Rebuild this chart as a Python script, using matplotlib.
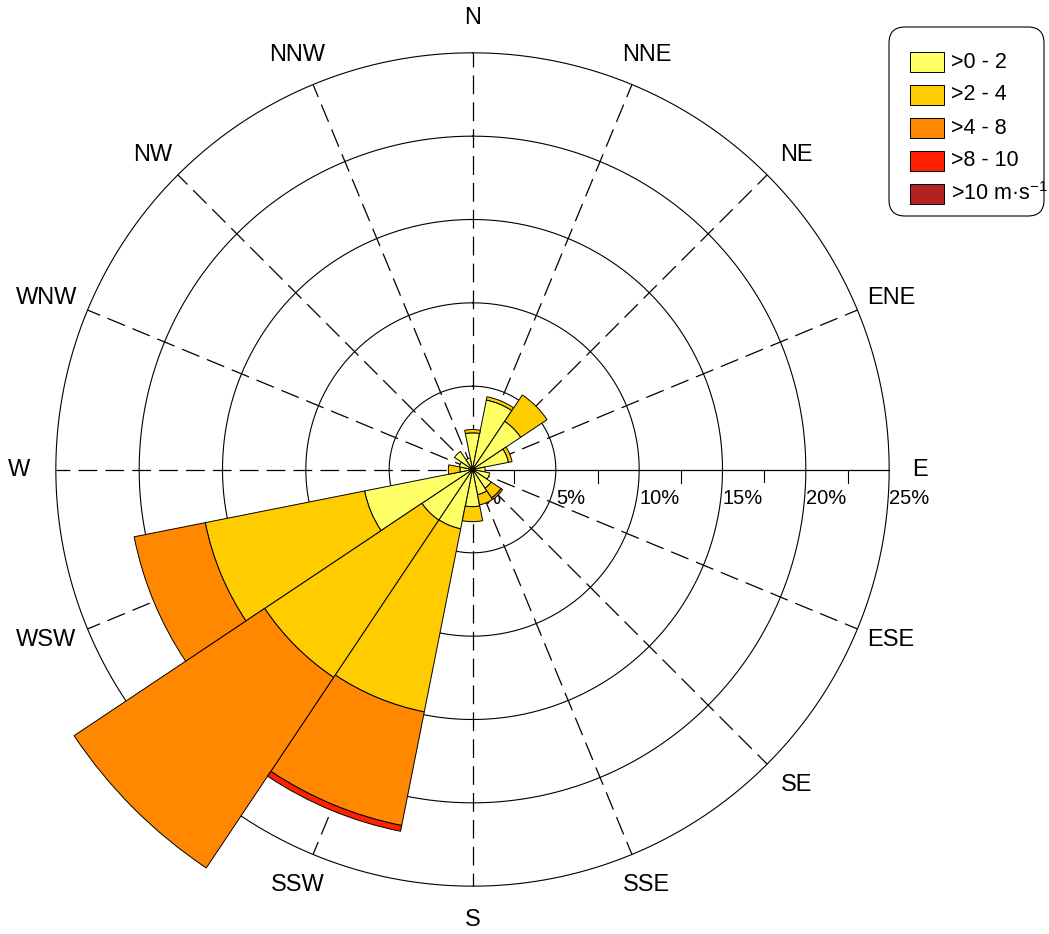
import numpy as np
import matplotlib
matplotlib.use('Agg')
import matplotlib.pyplot as plt
from matplotlib.patches import FancyBboxPatch, Rectangle

plt.rcParams['font.family'] = ['Liberation Sans', 'DejaVu Sans']

# ---------------- data ----------------
directions = ['N', 'NNE', 'NE', 'ENE', 'E', 'ESE', 'SE', 'SSE',
              'S', 'SSW', 'SW', 'WSW', 'W', 'WNW', 'NW', 'NNW']
speed_labels = ['>0 - 2', '>2 - 4', '>4 - 8', '>8 - 10',
                r'>10 m·s$^{\mathregular{-1}}$']
speed_colors = ['#FFFF66', '#FFCC00', '#FF8800', '#FF2200', '#B22222']

# frequency (%) per direction for each speed class
freq_0_2 = [2.20, 4.25, 3.48, 2.20, 0.75, 1.05, 1.35, 1.54,
            2.23, 3.63, 3.65, 6.60, 0.75, 0.80, 1.30, 0.70]
freq_2_4 = [0.20, 0.20, 1.90, 0.22, 0.00, 0.00, 0.70, 0.62,
            0.90, 11.20, 11.35, 9.75, 0.70, 0.00, 0.00, 0.00]
freq_4_8 = [0.00, 0.00, 0.00, 0.00, 0.00, 0.00, 0.12, 0.00,
            0.00, 6.95, 13.75, 4.35, 0.00, 0.00, 0.00, 0.00]
freq_8_10 = [0.00, 0.00, 0.00, 0.00, 0.00, 0.00, 0.00, 0.00,
             0.00, 0.35, 0.00, 0.00, 0.00, 0.00, 0.00, 0.00]
freq_10_up = [0.00] * 16

ring_values = [5, 10, 15, 20, 25]
pct_labels = [0, 5, 10, 15, 20, 25]
minor_ticks = [2.5, 7.5, 12.5, 17.5, 22.5]

series = [freq_0_2, freq_2_4, freq_4_8, freq_8_10, freq_10_up]

# small pixel nudges of the compass labels (style only)
label_nudge = [(0, 1), (2, -1), (6, -4), (3, -1), (-2, 0), (3, 2), (6, 3), (2, 0),
               (0, 0), (-3, 0), (0, 0), (-11, 2), (-3, 0), (-10, -1), (-2, -4), (-3, -1)]

# ---------------- figure ----------------
W, H = 1049, 934
fig = plt.figure(figsize=(W / 100, H / 100), dpi=100)
cx, cy = 472.5, 469.5          # pixel centre of the rose
rlim = 30.0
rad_px = 500.0                 # pixels for rlim
ax = fig.add_axes([(cx - rad_px) / W, (H - cy - rad_px) / H,
                   2 * rad_px / W, 2 * rad_px / H], projection='polar')
ax.set_theta_zero_location('N')
ax.set_theta_direction(-1)
ax.set_ylim(0, rlim)
ax.set_axis_off()

n = len(directions)
theta = np.arange(n) * 2 * np.pi / n
width = 2 * np.pi / n

# rings
tt = np.linspace(0, 2 * np.pi, 1441)
for v in ring_values:
    ax.plot(tt, np.full_like(tt, v), color='black', lw=0.8, zorder=2)

# radial lines
for i, th in enumerate(theta):
    if directions[i] == 'E':
        ax.plot([th, th], [0, ring_values[-1]], color='black', lw=0.9, zorder=2)
    else:
        ax.plot([th, th], [0, ring_values[-1]], color='black', lw=0.9,
                ls=(0, (15, 6.5)), zorder=2)

# ticks along the E axis
px_per_unit = rad_px / rlim
dy = 13 / px_per_unit
for v in minor_ticks:
    r2 = np.hypot(v, dy)
    th2 = np.pi / 2 + np.arctan(dy / v)
    ax.plot([np.pi / 2, th2], [v, r2], color='black', lw=0.8, zorder=2)

# percentage labels
for v in pct_labels:
    ax.annotate(f'{v}%', xy=(np.pi / 2, v), xytext=(0, -28.5),
                textcoords='offset pixels', ha='left', va='center',
                fontsize=14.5, zorder=1)

# direction labels
for th, name, nd in zip(theta, directions, label_nudge):
    ax.annotate(name, xy=(th, 27.0), xytext=nd, textcoords='offset pixels',
                ha='center', va='center', fontsize=17, zorder=1)

# stacked bars
bottom = np.zeros(n)
for vals, col in zip(series, speed_colors):
    vals = np.array(vals)
    mask = vals > 0
    if mask.any():
        ax.bar(theta[mask], vals[mask], width=width, bottom=bottom[mask],
               color=col, edgecolor='black', linewidth=0.7, zorder=3,
               align='center')
    bottom = bottom + vals

# ---------------- legend (pixel overlay) ----------------
lax = fig.add_axes([0, 0, 1, 1])
lax.set_xlim(0, W)
lax.set_ylim(H, 0)
lax.set_axis_off()
box = FancyBboxPatch((889, 27), 155, 189,
                     boxstyle='round,pad=0,rounding_size=16',
                     fc='white', ec='black', lw=0.8)
lax.add_patch(box)
row_y = [62, 95, 128, 161, 193.5]
for yc, lab, col in zip(row_y, speed_labels, speed_colors):
    lax.add_patch(Rectangle((910, yc - 10), 34, 20, fc=col, ec='black', lw=0.7))
    lax.text(951, yc, lab, ha='left', va='center', fontsize=15.5)

fig.savefig('out.png', dpi=100, facecolor='white')
